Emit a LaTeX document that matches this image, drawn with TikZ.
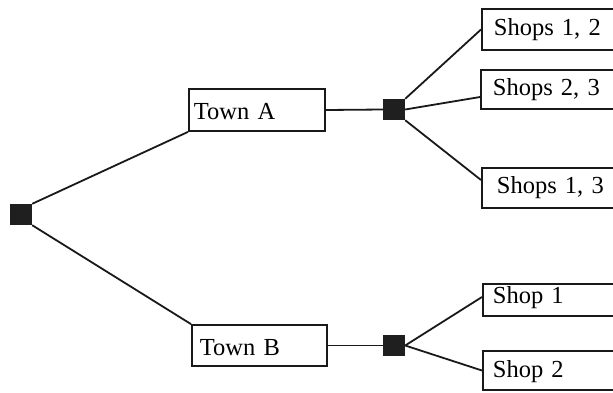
\documentclass[tikz,border=0pt]{standalone}
\usepackage{fontspec}
\setmainfont{Liberation Serif}
\begin{document}
\begin{tikzpicture}[x=1pt,y=-1pt,
  box/.style={draw=black!90, line width=1.8pt, rectangle, anchor=west, align=left,
    inner ysep=0pt, font=\fontsize{24.5}{29}\selectfont},
  sq/.style={fill=black!88, draw=none, minimum width=22pt, minimum height=21pt, inner sep=0pt},
  conn/.style={line width=1.8pt, draw=black!90}]
\useasboundingbox (0,0) rectangle (613,392);
\clip (0,0) rectangle (613,392);
% squares
\node[sq] (root) at (21,214.5) {};
\node[sq] (sqA) at (394,109.5) {};
\node[sq] (sqB) at (394,345.5) {};
% boxes
\node[box, minimum height=42pt, inner xsep=5pt, text width=126pt] (A) at (188,110) {\raisebox{-2pt}[\height][\depth]{Town A}};
\node[box, minimum height=41pt, inner xsep=8pt, text width=119pt] (B) at (191,345.5) {\raisebox{-2pt}[\height][\depth]{Town B}};
\node[box, minimum height=41pt, inner xsep=12pt, text width=125pt] (S12) at (481,29.5) {Shops 1, 2};
\node[box, minimum height=39pt, inner xsep=12pt, text width=125pt] (S23) at (480,89.5) {Shops 2, 3};
\node[box, minimum height=40pt, inner xsep=15pt, text width=119pt] (S13) at (481,188) {Shops 1, 3};
\node[box, minimum height=32pt, inner xsep=10pt, text width=129pt] (Sh1) at (482,300) {\raisebox{2pt}[\height][\depth]{Shop 1}};
\node[box, minimum height=39pt, inner xsep=10pt, text width=129pt] (Sh2) at (482,370.5) {\raisebox{-1.5pt}[\height][\depth]{Shop 2}};
% connectors
\draw[conn] (root.north east) -- (A.south west);
\draw[conn] (root.south east) -- (B.north west);
\draw[conn] (A.east) -- (sqA.west);
\draw[conn] (sqA.north east) -- (S12.west);
\draw[conn] (sqA.east) -- ([yshift=-7.5pt]S23.west);
\draw[conn] (sqA.south east) -- ([yshift=8pt]S13.west);
\draw[conn] (B.east) -- (sqB.west);
\draw[conn] (sqB.east) -- ([yshift=3pt]Sh1.west);
\draw[conn] (sqB.east) -- (Sh2.west);
\end{tikzpicture}
\end{document}
